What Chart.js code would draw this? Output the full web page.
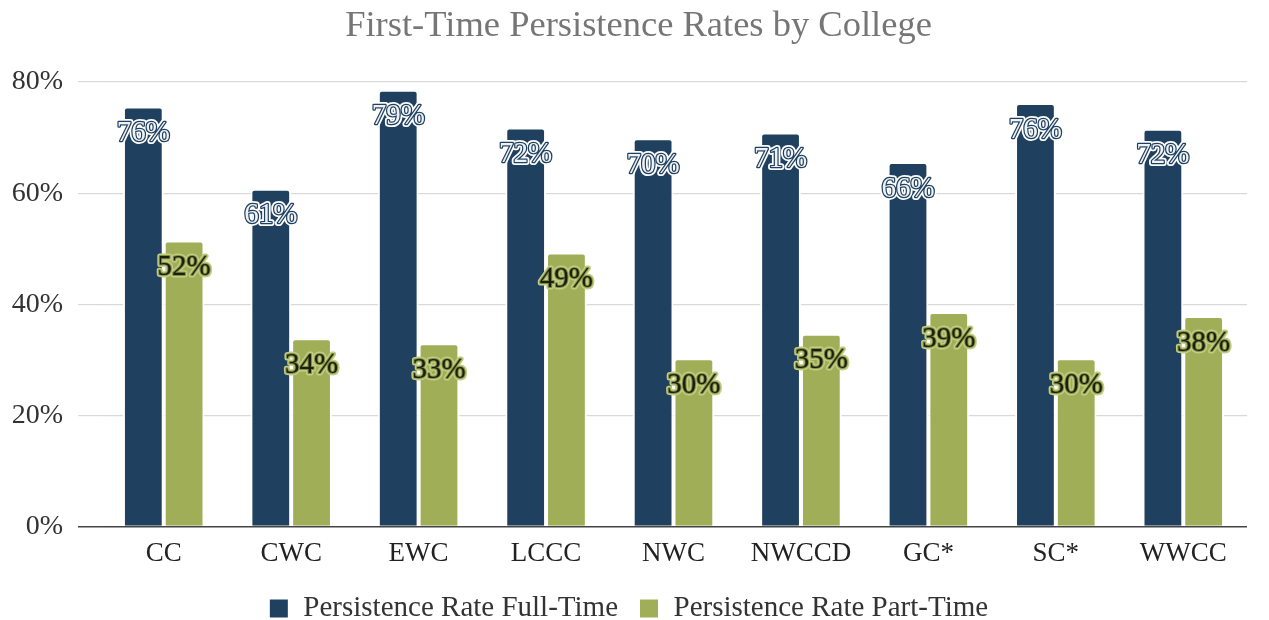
<!DOCTYPE html>
<html>
<head>
<meta charset="utf-8">
<script src="https://cdn.jsdelivr.net/npm/chart.js@4/dist/chart.umd.min.js"></script>
<style>
  html, body { margin: 0; padding: 0; background: #fff; }
  #wrap { width: 1269px; height: 620px; }
</style>
</head>
<body>
<div id="wrap"><canvas id="chart" width="1269" height="620"></canvas></div>
<script>
const colleges = ["CC", "CWC", "EWC", "LCCC", "NWC", "NWCCD", "GC*", "SC*", "WWCC"];
const fullTime = [75.6, 60.8, 78.6, 71.8, 69.9, 70.9, 65.6, 76.2, 71.6];
const partTime = [51.5, 33.9, 33.0, 49.3, 30.3, 34.7, 38.6, 30.3, 37.9];
const yTicks = [0, 20, 40, 60, 80];
const chartTitle = "First-Time Persistence Rates by College";

const NAVY = "#20405f";
const OLIVE = "#a0ae58";
const SERIF = "'Liberation Serif', 'DejaVu Serif', serif";

// title drawn by hand so it can sit centred on the whole picture
const titlePlugin = {
  id: "titleText",
  afterDraw(chart) {
    const ctx = chart.ctx;
    ctx.save();
    ctx.font = `36.5px ${SERIF}`;
    ctx.fillStyle = "#767676";
    ctx.textAlign = "center";
    ctx.textBaseline = "middle";
    ctx.fillText(chartTitle, chart.width / 2 + 4, 26);
    ctx.restore();
  },
};

// value labels with a halo, drawn inside the top of each bar
const barLabels = {
  id: "barLabels",
  afterDatasetsDraw(chart) {
    const ctx = chart.ctx;
    ctx.save();
    ctx.font = `29px ${SERIF}`;
    ctx.textAlign = "center";
    ctx.textBaseline = "middle";
    ctx.lineJoin = "round";
    chart.data.datasets.forEach((ds, di) => {
      const meta = chart.getDatasetMeta(di);
      meta.data.forEach((bar, i) => {
        const txt = Math.round(ds.data[i]) + "%";
        const y = bar.y + 27;
        if (di === 0) {
          ctx.lineWidth = 6;
          ctx.strokeStyle = "#ffffff";
          ctx.strokeText(txt, bar.x, y);
          ctx.lineWidth = 2.5;
          ctx.strokeStyle = NAVY;
          ctx.strokeText(txt, bar.x, y);
          ctx.fillStyle = "#eef2f6";
          ctx.fillText(txt, bar.x, y);
        } else {
          ctx.lineWidth = 5;
          ctx.strokeStyle = "#c2cd84";
          ctx.strokeText(txt, bar.x, y);
          ctx.lineWidth = 2;
          ctx.strokeStyle = "#7f8f3c";
          ctx.strokeText(txt, bar.x, y);
          ctx.fillStyle = "#1c1c14";
          ctx.fillText(txt, bar.x, y);
        }
      });
    });
    ctx.restore();
  },
};

new Chart(document.getElementById("chart"), {
  type: "bar",
  data: {
    labels: colleges,
    datasets: [
      {
        label: "Persistence Rate Full-Time",
        data: fullTime,
        backgroundColor: NAVY,
        borderColor: "#ffffff",
        borderWidth: 2,
        borderSkipped: "bottom",
        borderRadius: { topLeft: 4, topRight: 4 },
      },
      {
        label: "Persistence Rate Part-Time",
        data: partTime,
        backgroundColor: OLIVE,
        borderColor: "#ffffff",
        borderWidth: 2,
        borderSkipped: "bottom",
        borderRadius: { topLeft: 4, topRight: 4 },
      },
    ],
  },
  options: {
    responsive: false,
    animation: false,
    datasets: { bar: { categoryPercentage: 0.64, barPercentage: 1.0 } },
    layout: { padding: { left: 10, right: 22, top: 82, bottom: -13 } },
    scales: {
      x: {
        grid: { display: false },
        border: { display: false },
        ticks: { color: "#222", font: { family: SERIF, size: 27 }, padding: 3 },
      },
      y: {
        min: 0,
        max: 80,
        afterBuildTicks: (axis) => { axis.ticks = yTicks.map((v) => ({ value: v })); },
        afterFit: (axis) => { axis.width = 90; },
        grid: {
          color: (c) => (c.tick && c.tick.value === 0 ? "#444" : "#d9d9d9"),
          lineWidth: (c) => (c.tick && c.tick.value === 0 ? 1.5 : 1.2),
          drawTicks: true,
          tickLength: 22,
        },
        border: { display: false },
        ticks: {
          color: "#333",
          padding: 15,
          font: { family: SERIF, size: 28 },
          callback: (v) => v + "%",
        },
      },
    },
    plugins: {
      title: { display: false },
      legend: {
        position: "bottom",
        labels: {
          color: "#333",
          font: { family: SERIF, size: 29 },
          boxWidth: 20,
          boxHeight: 20,
          padding: 21,
        },
      },
      tooltip: { enabled: false },
    },
  },
  plugins: [barLabels, titlePlugin],
});
</script>
</body>
</html>
